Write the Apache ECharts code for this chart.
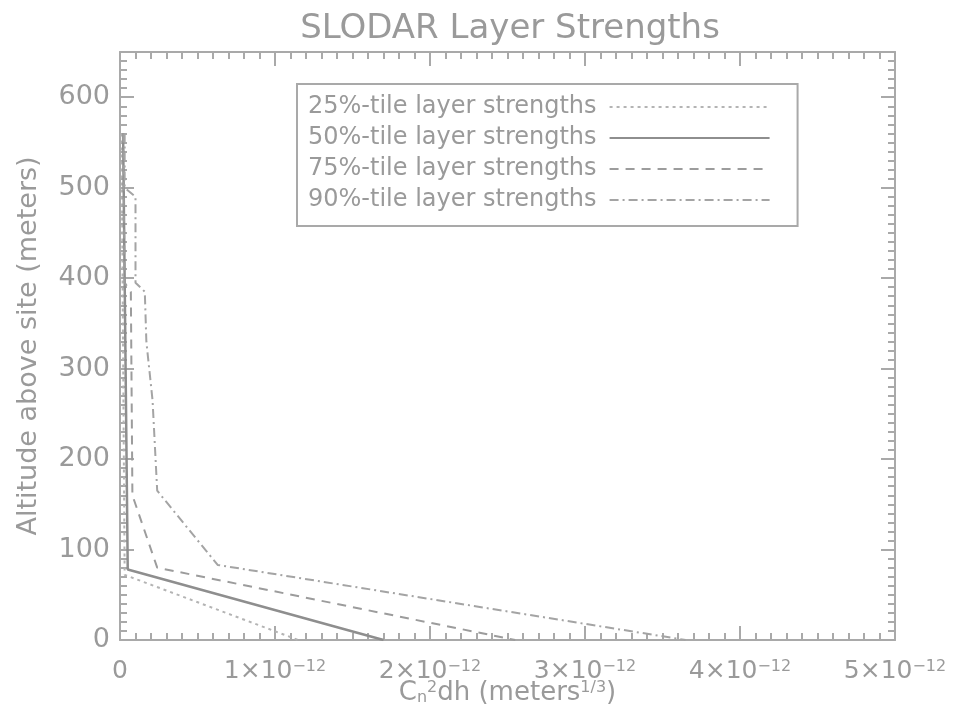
<!DOCTYPE html>
<html>
<head>
<meta charset="utf-8">
<script src="https://cdn.jsdelivr.net/npm/echarts@6/dist/echarts.min.js"></script>
<style>
  html, body { margin: 0; padding: 0; background: #fff; }
  #chart { width: 953px; height: 720px; }
</style>
</head>
<body>
<div id="chart"></div>
<script>
// x values are in units of 1e-12 m^(1/3), y values are altitudes in meters
const legendNames = [
  "25%-tile layer strengths",
  "50%-tile layer strengths",
  "75%-tile layer strengths",
  "90%-tile layer strengths",
];

const alt25 = [560, 72, 0];
const val25 = [0.01, 0.03, 1.15];

const alt50 = [560, 78, 0];
const val50 = [0.02, 0.05, 1.7];

const alt75 = [560, 395, 385, 160, 80, 0];
const val75 = [0.02, 0.03, 0.07, 0.08, 0.24, 2.55];

const alt90 = [560, 500, 490, 395, 385, 330, 265, 165, 83, 0];
const val90 = [0.03, 0.03, 0.1, 0.1, 0.16, 0.17, 0.21, 0.24, 0.63, 3.65];

function pairs(vals, alts) {
  return alts.map((a, i) => [vals[i], a]);
}

const chart = echarts.init(document.getElementById("chart"));

const axisColor = "#a9a9a9";
const textColor = "#9a9a9a";
const font = "DejaVu Sans";

// IDL style box: ticks point inwards on all four sides
function boxAxis(position, isX) {
  return {
    type: "value",
    position: position,
    min: 0,
    max: isX ? 5 : 650,
    interval: isX ? 1 : 100,
    axisLine: { show: true, onZero: false, lineStyle: { color: axisColor, width: 2 } },
    axisTick: { inside: true, length: 14, lineStyle: { color: axisColor, width: 2 } },
    minorTick: { show: true, splitNumber: 10, length: 7, lineStyle: { color: axisColor, width: 2 } },
    splitLine: { show: false },
    axisLabel: { show: false },
  };
}

const option = {
  backgroundColor: "#fff",
  animation: false,
  title: {
    text: "SLODAR Layer Strengths",
    left: 505,
    top: 7,
    textAlign: "center",
    textStyle: { fontFamily: font, fontSize: 34, fontWeight: "normal", color: textColor },
  },
  grid: { left: 120, right: 58, top: 52, bottom: 80 },
  legend: {
    data: legendNames,
    orient: "vertical",
    left: 297,
    top: 84,
    align: "right",
    itemWidth: 160,
    itemHeight: 20,
    itemGap: 7,
    padding: [11, 27, 14, 11],
    borderColor: axisColor,
    borderWidth: 2,
    itemStyle: { opacity: 0 },
    textStyle: { fontFamily: font, fontSize: 24, color: textColor, padding: [0, 8, 0, 0] },
  },
  xAxis: [
    Object.assign(boxAxis("bottom", true), {
      axisLabel: {
        show: true,
        margin: 19,
        fontFamily: font,
        fontSize: 25,
        color: textColor,
        formatter: (v) => (v === 0 ? "0" : "{b|" + v + "×10}{s|−12}"),
        rich: {
          b: { fontFamily: font, fontSize: 25, color: textColor },
          s: { fontFamily: font, fontSize: 16, color: textColor, verticalAlign: "top" },
        },
      },
      name: "{b|C}{sub|n}{sup|2}{b|dh (meters}{sup|1/3}{b|)}",
      nameLocation: "middle",
      nameGap: 40,
      nameMoveOverlap: false,
      nameTextStyle: {
        rich: {
          b: { fontFamily: font, fontSize: 26, color: textColor },
          sub: { fontFamily: font, fontSize: 16, color: textColor, verticalAlign: "bottom" },
          sup: { fontFamily: font, fontSize: 16, color: textColor, verticalAlign: "top" },
        },
      },
    }),
    boxAxis("top", true),
  ],
  yAxis: [
    Object.assign(boxAxis("left", false), {
      axisLabel: {
        show: true,
        showMaxLabel: false,
        margin: 10,
        fontFamily: font,
        fontSize: 27,
        color: textColor,
      },
      name: "Altitude above site (meters)",
      nameLocation: "middle",
      nameGap: 78,
      nameTextStyle: { fontFamily: font, fontSize: 27, color: textColor },
    }),
    boxAxis("right", false),
  ],
  series: [
    {
      name: legendNames[0],
      type: "line",
      symbol: "none",
      data: pairs(val25, alt25),
      lineStyle: { color: "#b4b4b4", width: 2, type: [3, 4] },
      itemStyle: { color: "#b4b4b4" },
    },
    {
      name: legendNames[1],
      type: "line",
      symbol: "none",
      data: pairs(val50, alt50),
      lineStyle: { color: "#8e8e8e", width: 2.5, type: "solid" },
      itemStyle: { color: "#8e8e8e" },
    },
    {
      name: legendNames[2],
      type: "line",
      symbol: "none",
      data: pairs(val75, alt75),
      lineStyle: { color: "#9c9c9c", width: 2, type: [9, 7] },
      itemStyle: { color: "#9c9c9c" },
    },
    {
      name: legendNames[3],
      type: "line",
      symbol: "none",
      data: pairs(val90, alt90),
      lineStyle: { color: "#a4a4a4", width: 2, type: [9, 4, 2, 4] },
      itemStyle: { color: "#a4a4a4" },
    },
  ],
};

chart.setOption(option);
</script>
</body>
</html>
